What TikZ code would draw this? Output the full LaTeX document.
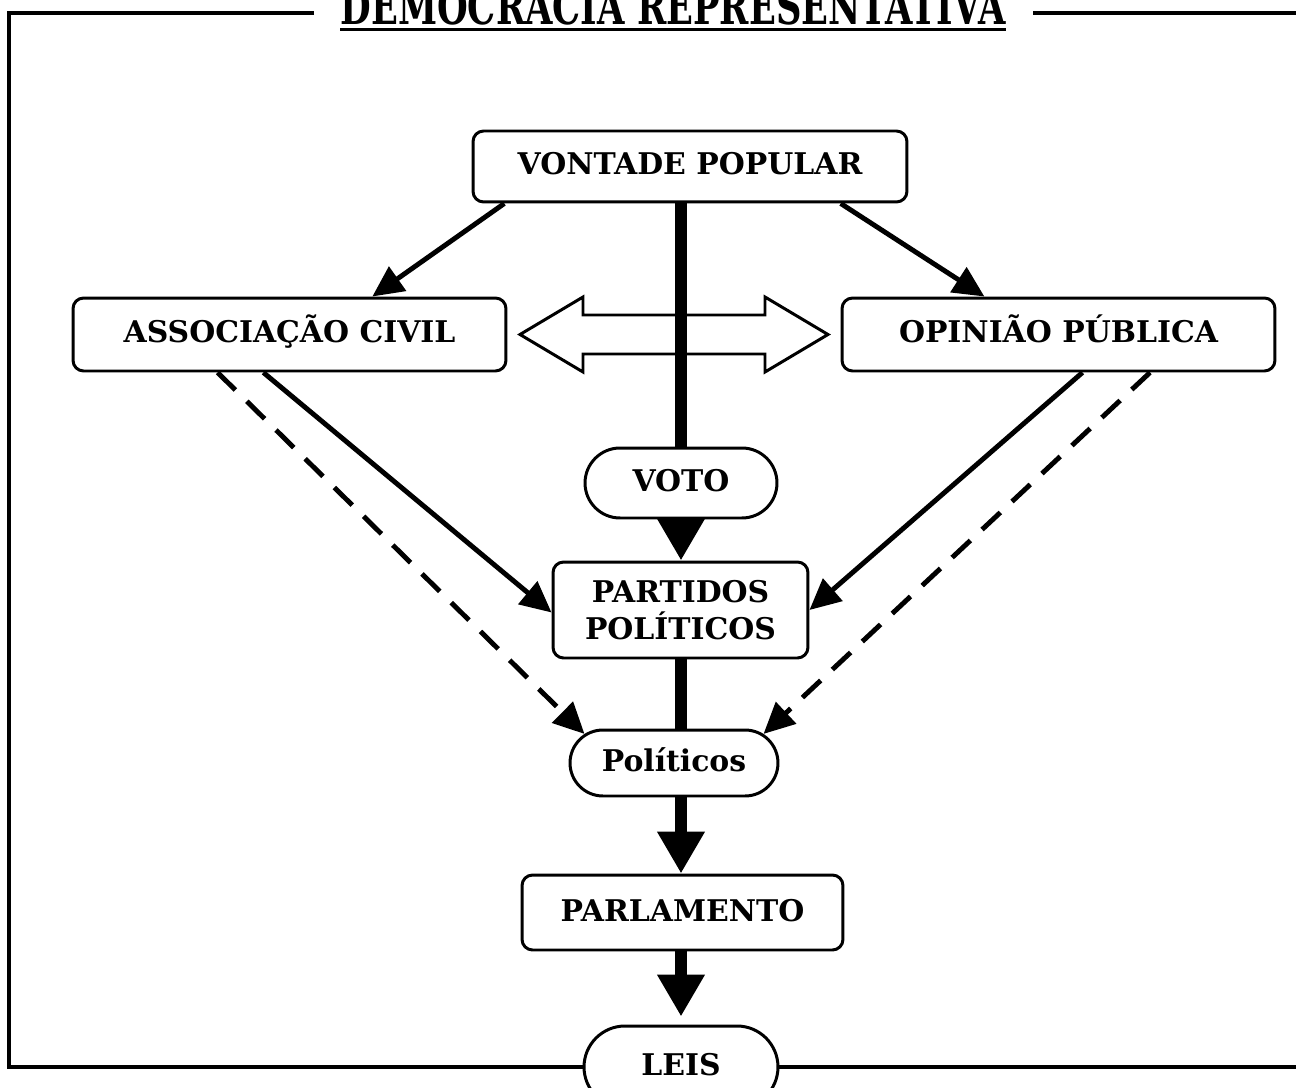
\documentclass[tikz,border=0pt]{standalone}
\usepackage{fontspec}
\setmainfont{DejaVu Serif}
\usetikzlibrary{arrows.meta,shapes.misc,calc}
\begin{document}
\begin{tikzpicture}[x=0.02cm,y=-0.02cm,line join=miter,
  box/.style={draw,line width=1.7pt,rounded corners=6pt,fill=white,inner sep=0pt,align=center,font=\fontsize{17}{21}\selectfont\bfseries},
  oneline/.style={text height=0.46cm,text depth=0.12cm},
  pill/.style={draw,line width=1.7pt,rounded rectangle,fill=white,inner sep=0pt,oneline,font=\fontsize{17}{20}\selectfont\bfseries},
  link/.style={line width=2.8pt,-{Triangle[length=0.62cm,width=0.58cm]}},
  hint/.style={link,dash pattern=on 0.5cm off 0.32cm},
  trunk/.style={line width=7pt},
  trunkarrow/.style={trunk,-{Triangle[length=0.84cm,width=0.9cm]}},
  frame/.style={line width=1.8pt}]
\useasboundingbox (0,0) rectangle (1296,1088);
\node[box,oneline,minimum width=8.68cm,minimum height=1.42cm] (vontade) at (690,166.5) {VONTADE POPULAR};
\node[box,oneline,minimum width=8.66cm,minimum height=1.46cm] (assoc) at (289.5,334.5) {ASSOCIAÇÃO CIVIL};
\node[box,oneline,minimum width=8.66cm,minimum height=1.46cm] (opiniao) at (1058.5,334.5) {OPINIÃO PÚBLICA};
\node[pill,minimum width=3.84cm,minimum height=1.4cm] (voto) at (681,483) {VOTO};
\node[box,minimum width=5.1cm,minimum height=1.92cm] (partidos) at (680.5,610) {PARTIDOS\\POLÍTICOS};
\node[pill,minimum width=4.16cm,minimum height=1.32cm] (politicos) at (674,763) {Políticos};
\node[box,oneline,minimum width=6.42cm,minimum height=1.5cm] (parlamento) at (682.5,912.5) {PARLAMENTO};
\node[pill,minimum width=3.88cm,minimum height=1.64cm] (leis) at (681,1067) {LEIS};
\node[anchor=base,inner sep=0pt] (title) at (673,25) {\resizebox{13.3cm}{0.74cm}{\bfseries DEMOCRACIA REPRESENTATIVA}};
\draw[frame] ([yshift=-0.09cm]title.base west) -- ([yshift=-0.09cm]title.base east);
\draw[frame] (314,13) -- (9,13) -- (9,1067) -- (leis.west);
\draw[frame] (leis.east) -- (1310,1067);
\draw[frame] (1033,13) -- (1310,13);
\draw[line width=1.7pt,fill=white] (520,334.5) -- (583,297) -- (583,315) -- (765,315) -- (765,297) -- (828,334.5) -- (765,372) -- (765,354) -- (583,354) -- (583,372) -- cycle;
\draw[link] ($(vontade.south west)!0.075!(vontade.south east)$) -- ($(assoc.north west)!0.69!(assoc.north east)$);
\draw[link] ($(vontade.south west)!0.845!(vontade.south east)$) -- ($(opiniao.north west)!0.33!(opiniao.north east)$);
\draw[link] ($(assoc.south west)!0.44!(assoc.south east)$) -- ([yshift=-0.05cm]partidos.west);
\draw[hint] ($(assoc.south west)!0.335!(assoc.south east)$) -- (politicos.162);
\draw[link] ($(opiniao.south west)!0.555!(opiniao.south east)$) -- (partidos.east);
\draw[hint] ($(opiniao.south west)!0.71!(opiniao.south east)$) -- (politicos.18);
\draw[trunk] (voto.north |- vontade.south) -- (voto.north);
\draw[trunkarrow] (voto.south) -- (voto.south |- partidos.north);
\draw[trunk] (voto.south |- partidos.south) -- (voto.south |- politicos.north);
\draw[trunkarrow] (voto.south |- politicos.south) -- (voto.south |- parlamento.north);
\draw[trunkarrow,shorten >=0.16cm] (voto.south |- parlamento.south) -- (leis.north);
\end{tikzpicture}
\end{document}
